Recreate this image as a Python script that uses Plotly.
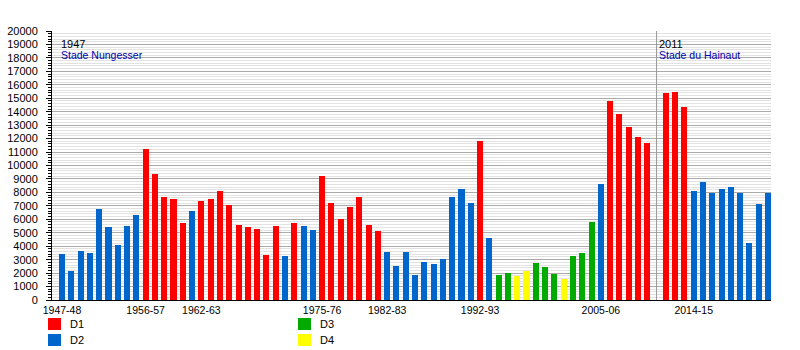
import plotly.graph_objects as go

# ---- data ----
seasons = [f"{y}-{str(y+1)[2:]}" for y in range(1947, 2011)] + [""] + \
          [f"{y}-{str(y+1)[2:]}" for y in range(2011, 2023)]

attendance = [
    3400, 2150, 3650, 3500, 6750, 5420, 4100, 5500, 6300,          # 1947-56
    11200, 9350, 7650, 7500, 5700, 6600,                            # 1956-62
    7350, 7500, 8100, 7050, 5570, 5420, 5270, 3340, 5500, 3270,     # 1962-72
    5720, 5500, 5200,                                               # 1972-75
    9200, 7200, 6000, 6900, 7650, 5570, 5120,                       # 1975-82
    3560, 2520, 3560, 1860, 2820, 2670, 3040, 7650, 8240, 7200,     # 1982-92
    11800, 4600, 1860, 2000, 1780, 2150, 2750, 2450, 1930, 1560,    # 1992-2002
    3270, 3490, 5790, 8610,                                         # 2002-06
    14780, 13810, 12850, 12100, 11660,                              # 2006-11
    None,                                                           # stadium change
    15370, 15450, 14330,                                            # 2011-14
    8090, 8760, 7950, 8240, 8390, 7950, 4230, 7130, 7950,           # 2014-23
]

division = (
    ["D2"] * 9 + ["D1"] * 5 + ["D2"] + ["D1"] * 9 + ["D2"] + ["D1"] + ["D2"] * 2 +
    ["D1"] * 7 + ["D2"] * 10 + ["D1"] + ["D2"] + ["D3"] * 2 + ["D4"] * 2 +
    ["D3"] * 3 + ["D4"] + ["D3"] * 3 + ["D2"] + ["D1"] * 5 + [""] + ["D1"] * 3 +
    ["D2"] * 9
)

div_colors = {"D1": "#ff0000", "D2": "#0066cc", "D3": "#00aa00", "D4": "#ffff00", "": "rgba(0,0,0,0)"}

tick_seasons = ["1947-48", "1956-57", "1962-63", "1975-76", "1982-83",
                "1992-93", "2005-06", "2014-15"]

stadiums = [("1947", "Stade Nungesser", "1947-48"), ("2011", "Stade du Hainaut", "")]

legend_items = [("D1", 0, 0), ("D2", 0, 1), ("D3", 1, 0), ("D4", 1, 1)]

# ---- figure ----
x = list(range(len(seasons)))
fig = go.Figure()
fig.add_trace(go.Bar(
    x=x, y=attendance,
    marker=dict(color=[div_colors[d] for d in division], line=dict(width=0)),
    width=0.65, showlegend=False,
))

W, H = 800, 350
L, R, T, B = 52, 29, 31, 50
pw, ph = W - L - R, H - T - B

def px(xp):
    return (xp - L) / pw

def py(yp):
    return (H - B - yp) / ph

font = "Liberation Sans, Arial, sans-serif"

# stadium lines and labels
gap_index = seasons.index("")
for year, name, season in stadiums:
    xi = seasons.index(season) if season else gap_index
    if not season:
        fig.add_shape(type="line", x0=xi, x1=xi, y0=0, y1=20000, xref="x", yref="y",
                      line=dict(color="#999999", width=1), layer="above")
        xi_text = xi + 0.1
    else:
        xi_text = xi - 0.35
    fig.add_annotation(x=xi_text, y=py(36), xref="x", yref="paper", text=year,
                       showarrow=False, xanchor="left", yanchor="top",
                       font=dict(family=font, size=11, color="#000000"))
    fig.add_annotation(x=xi_text, y=py(47), xref="x", yref="paper", text=name,
                       showarrow=False, xanchor="left", yanchor="top",
                       font=dict(family=font, size=10.5, color="#0000b0"))

# legend
for label, col, row in legend_items:
    x0 = 48 + col * 250
    y0 = 318 + row * 16
    fig.add_shape(type="rect", xref="paper", yref="paper",
                  x0=px(x0), x1=px(x0 + 13), y0=py(y0), y1=py(y0 + 12),
                  fillcolor=div_colors[label], line=dict(width=0))
    fig.add_annotation(xref="paper", yref="paper", x=px(x0 + 20), y=py(y0 + 6),
                       text=label, showarrow=False, xanchor="left", yanchor="middle",
                       font=dict(family=font, size=11, color="#000000"))

fig.update_layout(
    width=W, height=H,
    margin=dict(l=L, r=R, t=T, b=B, pad=0, autoexpand=False),
    plot_bgcolor="white", paper_bgcolor="white",
    bargap=0,
    font=dict(family=font, size=11, color="#000000"),
    xaxis=dict(
        range=[-1.08, len(seasons) - 0.68],
        tickmode="array",
        tickvals=[seasons.index(s) for s in tick_seasons],
        ticktext=tick_seasons,
        ticks="", showgrid=False, zeroline=False,
        showline=True, linecolor="#000000", linewidth=1,
        tickfont=dict(size=10.5), automargin=False,
    ),
    yaxis=dict(
        range=[0, 20000], dtick=1000, tick0=0, tickformat="d",
        ticks="outside", ticklen=5, tickcolor="#000000",
        showline=True, linecolor="#000000", linewidth=1,
        showgrid=True, gridcolor="#aaaaaa", gridwidth=1,
        zeroline=False,
        minor=dict(dtick=200, ticks="outside", ticklen=3, tickcolor="#000000",
                   showgrid=True, gridcolor="#e2e2e2", gridwidth=1),
        tickfont=dict(size=11), automargin=False,
        ticklabelstandoff=6,
    ),
)

fig.write_html("out.html")
